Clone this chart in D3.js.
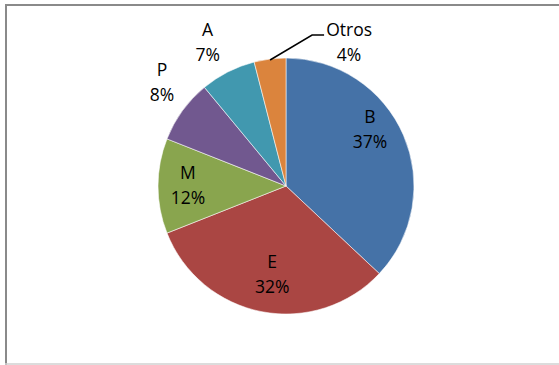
<!DOCTYPE html>
<html>
<head>
<meta charset="utf-8">
<script src="https://cdn.jsdelivr.net/npm/d3@7"></script>
<style>
  html, body { margin: 0; padding: 0; background: #fff; }
  svg { display: block; }
  text { font-family: "Open Sans", "Noto Sans", sans-serif; fill: #000; }
</style>
</head>
<body>
<svg id="chart" width="559" height="365"></svg>
<script>
// Share of each category, clockwise from 12 o'clock
const categories = ["B", "E", "M", "P", "A", "Otros"];
const shares = [37, 32, 12, 8, 7, 4];
const colors = ["#4572A7", "#AA4643", "#89A54E", "#71588F", "#4198AF", "#DB843D"];

const W = 559, H = 365;
const cx = 286, cy = 186, R = 128;

const svg = d3.select("#chart");

// Chart area frame
svg.append("line").attr("x1", 5).attr("x2", W).attr("y1", 5).attr("y2", 5)
  .attr("stroke", "#8a8a8a").attr("stroke-width", 2);
svg.append("line").attr("x1", 6).attr("x2", 6).attr("y1", 4).attr("y2", H)
  .attr("stroke", "#8a8a8a").attr("stroke-width", 2);
svg.append("line").attr("x1", 5).attr("x2", W).attr("y1", 364).attr("y2", 364)
  .attr("stroke", "#d0d0d0").attr("stroke-width", 1.5);

const data = categories.map((c, i) => ({ name: c, value: shares[i], color: colors[i] }));

const pie = d3.pie().value(d => d.value).sort(null);
const arcs = pie(data);
const arc = d3.arc().innerRadius(0).outerRadius(R);

const g = svg.append("g").attr("transform", `translate(${cx},${cy})`);

g.selectAll("path.slice")
  .data(arcs)
  .join("path")
  .attr("class", "slice")
  .attr("d", arc)
  .attr("fill", d => d.data.color)
  .attr("stroke", "rgba(255,255,255,0.55)")
  .attr("stroke-width", 1);

// Label placement: inside labels at a fraction of the radius, outside ones beyond the rim
const labelRadius = { B: 0.80, E: 0.70, M: 0.766, P: 1.265, A: 1.28 };
const labelNudge = { B: [-10, -16], E: [3, 0], M: [0, -1], P: [7, -9], A: [-4, 2] };

function labelPos(d) {
  const a = (d.startAngle + d.endAngle) / 2;
  const r = R * (labelRadius[d.data.name] || 1);
  const n = labelNudge[d.data.name] || [0, 0];
  return [Math.sin(a) * r + n[0], -Math.cos(a) * r + n[1]];
}

const lineGap = 25;
const fontSize = 17.5;

function drawLabel(x, y, d) {
  const t = g.append("text")
    .attr("text-anchor", "middle")
    .attr("font-size", fontSize);
  t.append("tspan").attr("x", x).attr("y", y - 6).text(d.data.name);
  t.append("tspan").attr("x", x).attr("y", y - 6 + lineGap).text(d.data.value + "%");
}

arcs.forEach(d => {
  if (d.data.name === "Otros") return;
  const [x, y] = labelPos(d);
  drawLabel(x, y, d);
});

// "Otros" slice: label set off to the upper right with a leader line
const small = arcs.find(d => d.data.name === "Otros");
const aMid = (small.startAngle + small.endAngle) / 2;
const p0 = [Math.sin(aMid) * (R - 1), -Math.cos(aMid) * (R - 1)];
const p1 = [p0[0] + 42, -151];
const p2 = [p1[0] + 12, p1[1]];
g.append("polyline")
  .attr("points", [p0, p1, p2].map(p => p.join(",")).join(" "))
  .attr("fill", "none")
  .attr("stroke", "#000")
  .attr("stroke-width", 1.5);
drawLabel(p2[0] + 25, -144, small);
</script>
</body>
</html>
